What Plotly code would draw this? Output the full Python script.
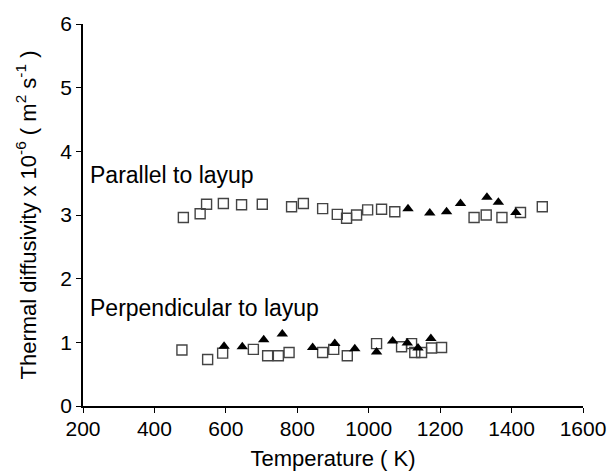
import plotly.graph_objects as go

# Parallel to layup
par_sq_x = [481, 528, 546, 593, 644, 702, 784, 817, 871, 912, 938, 966, 997, 1036, 1073, 1295, 1329, 1373, 1425, 1486]
par_sq_y = [2.96, 3.02, 3.17, 3.18, 3.16, 3.17, 3.13, 3.18, 3.10, 3.01, 2.95, 3.00, 3.08, 3.09, 3.05, 2.96, 3.00, 2.96, 3.04, 3.13]
par_tr_x = [1110, 1171, 1218, 1257, 1331, 1363, 1412]
par_tr_y = [3.10, 3.03, 3.05, 3.18, 3.28, 3.20, 3.04]

# Perpendicular to layup
per_sq_x = [477, 549, 591, 677, 717, 747, 777, 871, 902, 940, 1022, 1092, 1120, 1129, 1148, 1176, 1204]
per_sq_y = [0.88, 0.73, 0.83, 0.89, 0.79, 0.79, 0.84, 0.84, 0.89, 0.79, 0.98, 0.93, 0.98, 0.84, 0.84, 0.91, 0.92]
per_tr_x = [595, 646, 706, 758, 843, 905, 961, 1022, 1067, 1108, 1138, 1174]
per_tr_y = [0.94, 0.93, 1.04, 1.13, 0.92, 0.98, 0.90, 0.85, 1.02, 0.99, 0.91, 1.06]

x_ticks = [200, 400, 600, 800, 1000, 1200, 1400, 1600]
y_ticks = [0, 1, 2, 3, 4, 5, 6]

FONT = "Liberation Sans, Arial, sans-serif"

sq_marker = dict(symbol="square-open", size=10, color="#444", line=dict(width=1.4, color="#444"))
tr_marker = dict(symbol="triangle-up", size=10, color="black")

fig = go.Figure()
fig.add_trace(go.Scatter(x=par_sq_x, y=par_sq_y, mode="markers", marker=sq_marker, cliponaxis=False))
fig.add_trace(go.Scatter(x=par_tr_x, y=par_tr_y, mode="markers", marker=tr_marker, cliponaxis=False))
fig.add_trace(go.Scatter(x=per_sq_x, y=per_sq_y, mode="markers", marker=sq_marker, cliponaxis=False))
fig.add_trace(go.Scatter(x=per_tr_x, y=per_tr_y, mode="markers", marker=tr_marker, cliponaxis=False))

fig.add_annotation(x=214, y=3.63, text="Parallel to layup", showarrow=False,
                   xanchor="left", yanchor="middle", font=dict(size=23, color="black", family=FONT))
fig.add_annotation(x=214, y=1.54, text="Perpendicular to layup", showarrow=False,
                   xanchor="left", yanchor="middle", font=dict(size=23, color="black", family=FONT))

fig.update_layout(
    width=610, height=471,
    margin=dict(l=83, r=27, t=24, b=65),
    paper_bgcolor="white", plot_bgcolor="white",
    showlegend=False,
    font=dict(family=FONT, size=21, color="black"),
    xaxis=dict(range=[200, 1600], tickvals=x_ticks, ticktext=[str(v) for v in x_ticks],
               showline=True, linecolor="black", linewidth=1.5, ticks="outside", ticklen=5,
               tickcolor="black", showgrid=False, zeroline=False, automargin=False,
               tickfont=dict(size=21), ticklabelstandoff=-2,
               title=dict(text="Temperature ( K)", font=dict(size=22), standoff=12)),
    yaxis=dict(range=[0, 6], tickvals=y_ticks, ticktext=[str(v) for v in y_ticks],
               showline=True, linecolor="black", linewidth=1.5, ticks="outside", ticklen=5,
               tickcolor="black", showgrid=False, zeroline=False, automargin=False,
               tickfont=dict(size=21),
               title=dict(text="Thermal diffusivity x 10<sup>-6</sup> ( m<sup>2</sup> s<sup>-1</sup> )",
                          font=dict(size=22), standoff=18)),
)

fig.write_html("out.html", config={"displayModeBar": False},
               post_script="document.body.style.margin='0';document.body.style.padding='0';document.body.style.overflow='hidden';")
